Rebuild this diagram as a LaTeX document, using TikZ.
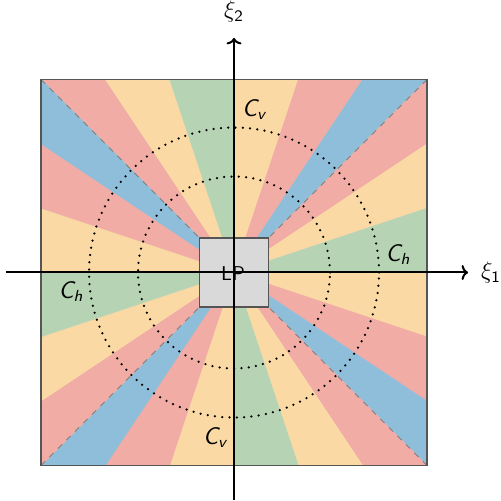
\documentclass[tikz,border=0pt]{standalone}
\usepackage{amsmath}
\usetikzlibrary{arrows.meta}
\definecolor{cred}{RGB}{240,172,165}
\definecolor{cyel}{RGB}{250,217,164}
\definecolor{cgrn}{RGB}{182,212,180}
\definecolor{cblu}{RGB}{143,190,219}
\definecolor{boxgray}{RGB}{217,217,217}
\definecolor{edgegray}{RGB}{85,85,85}
\newcommand{\sfit}[1]{\text{\sffamily\itshape #1}}
\begin{document}
\begin{tikzpicture}[x=0.5pt,y=0.5pt,
  wedge/.style={line width=0.2pt},
  diag/.style={draw=gray,dashed,line width=0.4pt},
  ring/.style={line width=1.25pt,dash pattern=on 0pt off 3.65pt,line cap=round},
  axis/.style={line width=1pt,-{To[length=3.2pt,width=7.5pt]}},
  lbl/.style={font=\fontsize{12}{14}\selectfont},
  lpbox/.style={draw=edgegray,fill=boxgray,line width=0.7pt,minimum size=34.5pt,inner sep=0pt}]
\useasboundingbox (-234,-228.5) rectangle (266,272.5);
% wedges
\foreach \r in {0,-90,-180,-270} {
  \begin{scope}[rotate=\r]
    \foreach \k/\c in {0/cred,1/cyel,2/cgrn,3/cyel,4/cred,5/cblu}
      \filldraw[wedge,draw=\c,fill=\c] (0,0) -- ({-193+64.3333*\k},193) -- ({-193+64.3333*(\k+1)},193) -- cycle;
  \end{scope}
}
% corners and diagonals
\coordinate (O) at (0,0);
\coordinate (TL) at (-193,193);
\coordinate (TR) at (193,193);
\coordinate (BR) at (193,-193);
\coordinate (BL) at (-193,-193);
\foreach \p in {TL,TR,BR,BL} \draw[diag] (\p) -- (O);
\draw[draw=edgegray,line width=0.8pt] (TL) -- (TR) -- (BR) -- (BL) -- cycle;
% dotted circles
\draw[ring] (O) circle[radius=145];
\draw[ring] (O) circle[radius=96];
% LP box
\node[lpbox] (lp) at (O) {};
% axes
\coordinate (xs) at (-228,0);
\coordinate (xe) at (234,0);
\coordinate (ys) at (0,-227.5);
\coordinate (ye) at (0,234.5);
\draw[axis] (xs) -- (xe);
\draw[axis] (ys) -- (ye);
\node[font=\sffamily\fontsize{10}{12}\selectfont] (lpt) at (-1,-1) {LP};
\node[lbl,anchor=west] (x1) at (240,0) {$\xi_{\text{\sffamily 1}}$};
\node[lbl,anchor=south] (x2) at (0,243) {$\xi_{\text{\sffamily 2}}$};
% labels
\node[lbl] (cv1) at (20,163) {\sfit{C}$_{\sfit{v}}$};
\node[lbl] (ch1) at (164,18) {\sfit{C}$_{\sfit{h}}$};
\node[lbl] (ch2) at (-163,-19) {\sfit{C}$_{\sfit{h}}$};
\node[lbl] (cv2) at (-19,-165) {\sfit{C}$_{\sfit{v}}$};
\end{tikzpicture}
\end{document}
